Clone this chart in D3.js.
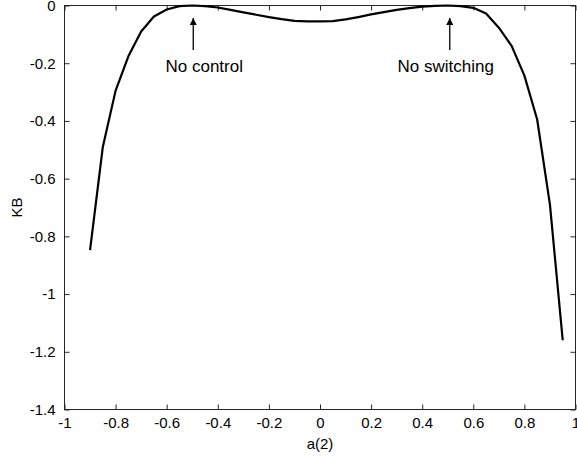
<!DOCTYPE html>
<html>
<head>
<meta charset="utf-8">
<script src="https://cdn.jsdelivr.net/npm/d3@7"></script>
<style>
  html, body { margin: 0; padding: 0; background: #fff; overflow: hidden; }
  text { font-family: Arial, "Liberation Sans", sans-serif; }
</style>
</head>
<body>
<div id="chart"></div>
<script>
(function(){
// a(2) values and KB values
const aValues = [-0.9, -0.85, -0.8, -0.75, -0.7, -0.65, -0.6, -0.55, -0.5, -0.45, -0.4, -0.35, -0.3, -0.25, -0.2, -0.15, -0.1, -0.05,
  0, 0.05, 0.1, 0.15, 0.2, 0.25, 0.3, 0.35, 0.4, 0.45, 0.5, 0.55, 0.6, 0.65, 0.7, 0.75, 0.8, 0.85, 0.9, 0.95];
const kbValues = [-0.848, -0.49, -0.295, -0.176, -0.09, -0.038, -0.014, -0.002, 0, -0.002, -0.007, -0.015, -0.024, -0.032, -0.040, -0.047, -0.053, -0.055,
  -0.055, -0.054, -0.048, -0.040, -0.031, -0.023, -0.015, -0.009, -0.004, -0.001, 0, -0.002, -0.008, -0.028, -0.077, -0.14, -0.243, -0.395, -0.69, -1.16];
const xTicks = [-1, -0.8, -0.6, -0.4, -0.2, 0, 0.2, 0.4, 0.6, 0.8, 1];
const yTicks = [0, -0.2, -0.4, -0.6, -0.8, -1, -1.2, -1.4];
const noteA = [-0.5, 0.5];
const noteLabels = ['No control', 'No switching'];

const width = 577, height = 460;
const pl = 64.5, pr = 575.5, pt = 5.5, pb = 409.5;
const noteTextDx = [11, -4];   // label centre relative to arrow
const noteArrowDx = [1, 2];

const svg = d3.select('#chart').append('svg').attr('width', width).attr('height', height);

const x = d3.scaleLinear().domain([-1, 1]).range([pl, pr]);
const y = d3.scaleLinear().domain([-1.4, 0]).range([pb, pt]);

const tickFmt = d => d === 0 ? '0' : String(d);

// box
svg.append('rect')
    .attr('x', pl).attr('y', pt)
    .attr('width', pr - pl).attr('height', pb - pt)
    .attr('fill', 'none').attr('stroke', '#262626').attr('stroke-width', 1);

// axes with inward ticks
const axisStyle = g => {
    g.select('.domain').remove();
    g.selectAll('.tick line').attr('stroke', '#262626');
    g.selectAll('.tick text').attr('fill', '#000').style('font-size', '15px');
};
svg.append('g').attr('transform', `translate(0,${pb})`)
    .call(d3.axisBottom(x).tickValues(xTicks).tickFormat(tickFmt).tickSizeInner(-5).tickPadding(8))
    .call(axisStyle);
svg.append('g').attr('transform', `translate(0,${pt})`)
    .call(d3.axisTop(x).tickValues(xTicks).tickFormat('').tickSizeInner(-5))
    .call(axisStyle);
svg.append('g').attr('transform', `translate(${pl},0)`)
    .call(d3.axisLeft(y).tickValues(yTicks).tickFormat(tickFmt).tickSizeInner(-5).tickPadding(9))
    .call(axisStyle);
svg.append('g').attr('transform', `translate(${pr},0)`)
    .call(d3.axisRight(y).tickValues(yTicks).tickFormat('').tickSizeInner(-5))
    .call(axisStyle);

// axis labels
svg.append('text').attr('x', x(0)).attr('y', 449).attr('text-anchor', 'middle')
    .style('font-size', '15px').text('a(2)');
svg.append('text').attr('transform', `translate(22,${(pt + pb) / 2}) rotate(-90)`)
    .attr('text-anchor', 'middle').style('font-size', '15px').text('KB');

// curve
const line = d3.line().x(d => x(d[0])).y(d => y(d[1]));
svg.append('path')
    .datum(aValues.map((a, i) => [a, kbValues[i]]))
    .attr('d', line)
    .attr('fill', 'none').attr('stroke', '#000').attr('stroke-width', 2.2)
    .attr('stroke-linejoin', 'round');

// annotations
svg.append('defs').append('marker')
    .attr('id', 'arrow').attr('viewBox', '0 0 10 10')
    .attr('refX', 10).attr('refY', 5)
    .attr('markerWidth', 11).attr('markerHeight', 7).attr('markerUnits', 'userSpaceOnUse')
    .attr('orient', 'auto')
    .append('path').attr('d', 'M0,0L10,5L0,10Z').attr('fill', '#000');

const ann = svg.selectAll('g.note').data(noteA).join('g').attr('class', 'note');
ann.append('line')
    .attr('x1', (d, i) => x(d) + noteArrowDx[i]).attr('x2', (d, i) => x(d) + noteArrowDx[i])
    .attr('y1', 50).attr('y2', 18)
    .attr('stroke', '#000').attr('stroke-width', 1.3)
    .attr('marker-end', 'url(#arrow)');
ann.append('text')
    .attr('x', (d, i) => x(d) + noteArrowDx[i] + noteTextDx[i]).attr('y', 72)
    .attr('text-anchor', 'middle').style('font-size', '17px')
    .text((d, i) => noteLabels[i]);
})();
</script>
</body>
</html>
